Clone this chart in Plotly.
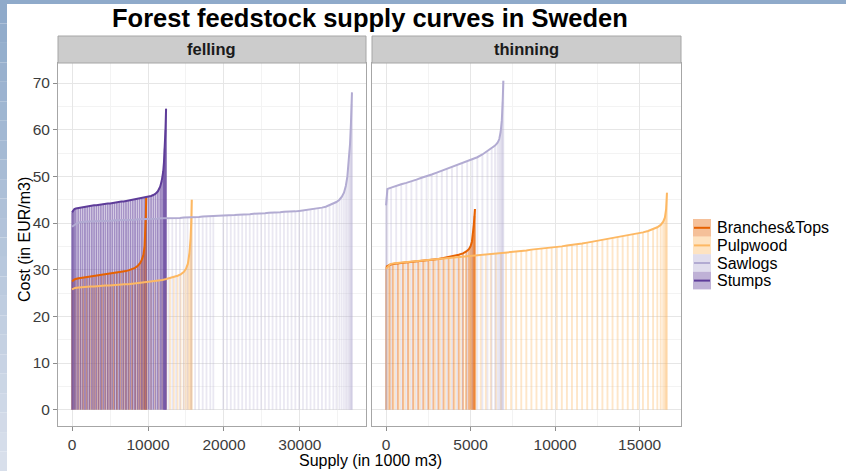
import plotly.graph_objects as go

W, H = 846, 471

# ---------------- data (supply in 1000 m3, cost in EUR/m3) ----------------
series = ["Branches&Tops", "Pulpwood", "Sawlogs", "Stumps"]

fell_branches_x = [0, 300, 700, 1100, 1500, 1900, 2300, 2700, 3100, 3500, 3900, 4300, 4700, 5100, 5500,
                   5900, 6300, 6700, 7100, 7500, 7900, 8300, 8700, 9000, 9200, 9400, 9550, 9650, 9720, 9760]
fell_branches_cost = [27.5, 27.9, 28.1, 28.2, 28.3, 28.4, 28.5, 28.6, 28.7, 28.7, 28.8, 28.9, 29.0, 29.1, 29.2,
                      29.3, 29.4, 29.5, 29.7, 29.9, 30.1, 30.4, 30.9, 31.5, 32.2, 33.2, 35.0, 38.0, 42.0, 45.5]

fell_pulp_x = [0, 400, 900, 1400, 1900, 2400, 2900, 3400, 3900, 4400, 4900, 5400, 5900, 6400, 6900, 7400,
               7900, 8400, 8900, 9400, 9900, 10400, 10900, 11400, 11900, 12400, 12900, 13400, 13900, 14300,
               14700, 15000, 15250, 15450, 15600, 15700, 15760]
fell_pulp_cost = [25.8, 26.1, 26.2, 26.3, 26.3, 26.4, 26.4, 26.5, 26.5, 26.6, 26.6, 26.7, 26.8, 26.8, 26.9, 26.9,
                  27.0, 27.1, 27.1, 27.2, 27.3, 27.4, 27.5, 27.6, 27.8, 28.0, 28.2, 28.4, 28.7, 29.0,
                  29.5, 30.2, 31.3, 33.5, 36.5, 40.5, 45.0]

fell_saw_x = [0, 300, 700, 1200, 1700, 2200, 2700, 3200, 3700, 4200, 4700, 5200, 5700, 6200, 6700, 7200, 7700,
              8200, 8700, 9200, 9700, 10200, 10700, 11200, 11700, 12200, 12700, 13200, 13700, 14200, 14700,
              15200, 15700, 16200, 16700, 17200, 17700, 18200, 18600, 19900, 20400, 20900, 21400, 21900,
              22400, 22900, 23400, 23900, 24400, 24900, 25400, 25900, 26400, 26900, 27400, 27900, 28400,
              28900, 29400, 29900, 30400, 30900, 31400, 31900, 32400, 32900, 33400, 33900, 34400, 34800,
              35200, 35500, 35800, 36050, 36250, 36450, 36600, 36720, 36800, 36850]
fell_saw_cost = [39.2, 39.6, 40.0, 40.2, 40.3, 40.3, 40.4, 40.4, 40.4, 40.5, 40.5, 40.5, 40.6, 40.6, 40.6, 40.7,
                 40.7, 40.7, 40.8, 40.8, 40.8, 40.9, 40.9, 40.9, 41.0, 41.0, 41.0, 41.1, 41.1, 41.1, 41.2,
                 41.2, 41.2, 41.3, 41.3, 41.4, 41.4, 41.4, 41.5, 41.6, 41.6, 41.7, 41.7, 41.8, 41.8, 41.9,
                 41.9, 42.0, 42.0, 42.1, 42.1, 42.2, 42.2, 42.3, 42.3, 42.4, 42.4, 42.5, 42.5, 42.6, 42.7,
                 42.8, 42.9, 43.0, 43.1, 43.3, 43.5, 43.8, 44.1, 44.5, 45.0, 45.6, 46.5, 48.0, 50.0, 53.5,
                 57.0, 61.5, 65.5, 68.0]

fell_stumps_x = [0, 150, 300, 500, 800, 1100, 1400, 1700, 2000, 2300, 2600, 2900, 3200, 3500, 3800, 4100,
                 4400, 4700, 5000, 5300, 5600, 5900, 6200, 6500, 6800, 7100, 7400, 7700, 8000, 8300, 8600,
                 8900, 9200, 9500, 9800, 10100, 10400, 10700, 11000, 11300, 11600, 11800, 12000, 12100, 12200,
                 12300, 12380]
fell_stumps_cost = [42.3, 42.8, 43.0, 43.1, 43.2, 43.3, 43.4, 43.5, 43.6, 43.6, 43.7, 43.8, 43.8, 43.9, 44.0,
                    44.0, 44.1, 44.2, 44.2, 44.3, 44.4, 44.4, 44.5, 44.6, 44.6, 44.7, 44.8, 44.8, 44.9, 45.0,
                    45.1, 45.2, 45.3, 45.4, 45.5, 45.6, 45.8, 46.0, 46.3, 46.8, 47.8, 49.0, 51.0, 53.0, 56.0,
                    60.0, 64.5]

thin_branches_x = [0, 200, 400, 700, 1000, 1300, 1600, 1900, 2200, 2500, 2800, 3100, 3400, 3700, 4000, 4300,
                   4550, 4750, 4900, 5000, 5080, 5140, 5190, 5230, 5260]
thin_branches_cost = [30.6, 31.0, 31.2, 31.4, 31.5, 31.6, 31.7, 31.8, 31.9, 32.0, 32.2, 32.3, 32.5, 32.7, 32.9,
                      33.2, 33.5, 33.9, 34.4, 35.0, 36.0, 37.5, 39.5, 41.5, 43.0]

thin_pulp_x = [0, 100, 250, 500, 800, 1100, 1400, 1700, 2000, 2300, 2600, 2900, 3200, 3500, 3800, 4100, 4400,
               4700, 5000, 5300, 5600, 5900, 6200, 6500, 6800, 7100, 7400, 7700, 8000, 8300, 8600, 8900, 9200,
               9500, 9800, 10100, 10400, 10700, 11000, 11300, 11600, 11900, 12200, 12500, 12800, 13100, 13400,
               13700, 14000, 14300, 14600, 14900, 15200, 15500, 15800, 16050, 16250, 16400, 16500, 16570, 16620]
thin_pulp_cost = [30.2, 30.7, 31.2, 31.4, 31.5, 31.6, 31.7, 31.8, 31.9, 32.0, 32.1, 32.2, 32.3, 32.4, 32.5, 32.6,
                  32.7, 32.8, 33.0, 33.1, 33.2, 33.3, 33.4, 33.5, 33.6, 33.7, 33.8, 33.9, 34.0, 34.1, 34.3,
                  34.4, 34.5, 34.6, 34.8, 34.9, 35.0, 35.2, 35.3, 35.5, 35.6, 35.8, 36.0, 36.2, 36.3, 36.5,
                  36.7, 36.9, 37.1, 37.3, 37.5, 37.7, 38.0, 38.3, 38.7, 39.1, 39.6, 40.3, 41.2, 43.0, 46.5]

thin_saw_x = [0, 30, 80, 300, 600, 900, 1200, 1500, 1800, 2100, 2400, 2700, 3000, 3300, 3600, 3900, 4200, 4500,
              4800, 5100, 5400, 5700, 6000, 6250, 6450, 6600, 6700, 6780, 6850, 6900, 6940]
thin_saw_cost = [43.8, 45.5, 47.3, 47.6, 48.0, 48.3, 48.6, 48.9, 49.3, 49.7, 50.0, 50.4, 50.8, 51.2, 51.6, 52.0,
                 52.4, 52.8, 53.2, 53.6, 54.1, 54.7, 55.4, 56.0, 56.6, 57.2, 58.0, 59.5, 62.0, 66.0, 70.5]

x_ticks_felling = [0, 10000, 20000, 30000]
x_ticks_thinning = [0, 5000, 10000, 15000]
y_ticks = [0, 10, 20, 30, 40, 50, 60, 70]

panels = {
    "felling": {"Branches&Tops": (fell_branches_x, fell_branches_cost),
                "Pulpwood": (fell_pulp_x, fell_pulp_cost),
                "Sawlogs": (fell_saw_x, fell_saw_cost),
                "Stumps": (fell_stumps_x, fell_stumps_cost)},
    "thinning": {"Branches&Tops": (thin_branches_x, thin_branches_cost),
                 "Pulpwood": (thin_pulp_x, thin_pulp_cost),
                 "Sawlogs": (thin_saw_x, thin_saw_cost)},
}

# ---------------- styles ----------------
colors = {"Branches&Tops": (230, 97, 1), "Pulpwood": (253, 184, 99),
          "Sawlogs": (178, 171, 210), "Stumps": (94, 60, 153)}
drop_alpha = {"Branches&Tops": 0.45, "Pulpwood": 0.35, "Sawlogs": 0.28, "Stumps": 0.55}
drop_width = {"felling": 1.8, "thinning": 1.9}
FONT = "Liberation Sans, Arial, sans-serif"


def rgba(c, a):
    return "rgba(%d,%d,%d,%s)" % (c[0], c[1], c[2], a)


def px(x):
    return x / W


def py(y):
    return 1 - y / H


fig = go.Figure()
axes = {"felling": ("x", "y"), "thinning": ("x2", "y2")}

# drop lines
for panel, data in panels.items():
    xa, ya = axes[panel]
    for s in series:
        if s not in data:
            continue
        xs, cs = data[s]
        dx, dy = [], []
        for xv, cv in zip(xs, cs):
            dx += [xv, xv, None]
            dy += [0, cv, None]
        fig.add_trace(go.Scatter(x=dx, y=dy, mode="lines", xaxis=xa, yaxis=ya,
                                 line=dict(color=rgba(colors[s], drop_alpha[s]), width=drop_width[panel]),
                                 hoverinfo="skip", showlegend=False))
# curves
for panel, data in panels.items():
    xa, ya = axes[panel]
    for s in series:
        if s not in data:
            continue
        xs, cs = data[s]
        fig.add_trace(go.Scatter(x=xs, y=cs, mode="lines", xaxis=xa, yaxis=ya,
                                 line=dict(color=rgba(colors[s], 1), width=2),
                                 name=s, showlegend=False))

grid_major = "#E6E6E6"
grid_minor = "#F3F3F3"
border = "#A6A6A6"
tickfont = dict(family=FONT, size=15.5, color="#3C3C3C")

common = dict(showgrid=True, gridcolor=grid_major, gridwidth=1, zeroline=False,
              showline=True, mirror=True, linecolor=border, linewidth=1,
              ticks="outside", ticklen=4, tickcolor="#8C8C8C", tickwidth=1,
              tickfont=tickfont, fixedrange=True)

fig.update_layout(
    width=W, height=H, margin=dict(l=0, r=0, t=0, b=0),
    paper_bgcolor="white", plot_bgcolor="white",
    showlegend=False,
    xaxis=dict(domain=[px(58), px(366)], range=[-1850, 38700], anchor="y",
               tickvals=x_ticks_felling, tickformat="d",
               minor=dict(dtick=5000, tick0=0, showgrid=True, gridcolor=grid_minor, ticks=""), **common),
    yaxis=dict(domain=[py(426), py(63)], range=[-3.5, 74.3], anchor="x",
               tickvals=y_ticks,
               minor=dict(dtick=5, tick0=0, showgrid=True, gridcolor=grid_minor, ticks=""), **common),
    xaxis2=dict(domain=[px(372), px(681)], range=[-831, 17451], anchor="y2",
                tickvals=x_ticks_thinning, tickformat="d",
                minor=dict(dtick=2500, tick0=0, showgrid=True, gridcolor=grid_minor, ticks=""), **common),
    yaxis2=dict(domain=[py(426), py(63)], range=[-3.5, 74.3], anchor="x2",
                tickvals=y_ticks, showticklabels=False,
                minor=dict(dtick=5, tick0=0, showgrid=True, gridcolor=grid_minor, ticks=""),
                **{k: v for k, v in common.items() if k not in ("ticks",)}, ticks=""),
)

shapes = []
annotations = []

# slide background frame
shapes.append(dict(type="rect", xref="paper", yref="paper", x0=0, x1=1, y0=py(4), y1=1,
                   fillcolor="#8FAACA", line=dict(width=0), layer="below"))
top_c = (143, 170, 202)
bot_c = (216, 223, 235)
n = 24
for i in range(n):
    t = i / (n - 1)
    c = tuple(int(round(top_c[k] + (bot_c[k] - top_c[k]) * t)) for k in range(3))
    y0 = 4 + (H - 4) * i / n
    y1 = 4 + (H - 4) * (i + 1) / n
    shapes.append(dict(type="rect", xref="paper", yref="paper", x0=0, x1=px(7), y0=py(y1), y1=py(y0),
                       fillcolor="rgb(%d,%d,%d)" % c, line=dict(width=0), layer="below"))

# strips
for name, (x0, x1) in {"felling": (58, 366), "thinning": (372, 681)}.items():
    shapes.append(dict(type="rect", xref="paper", yref="paper", x0=px(x0), x1=px(x1), y0=py(63), y1=py(36),
                       fillcolor="#CCCCCC", line=dict(color="#A6A6A6", width=1)))
    annotations.append(dict(text="<b>%s</b>" % name, xref="paper", yref="paper", x=px((x0 + x1) / 2),
                            y=py(49.5), xanchor="center", yanchor="middle", showarrow=False,
                            font=dict(family=FONT, size=16.5, color="#1A1A1A")))

# title and axis titles
annotations.append(dict(text="<b>Forest feedstock supply curves in Sweden</b>", xref="paper", yref="paper",
                        x=px(370), y=py(18), xanchor="center", yanchor="middle", showarrow=False,
                        font=dict(family=FONT, size=25.5, color="black")))
annotations.append(dict(text="Supply (in 1000 m3)", xref="paper", yref="paper", x=px(370), y=py(460.5),
                        xanchor="center", yanchor="middle", showarrow=False,
                        font=dict(family=FONT, size=16, color="black")))
annotations.append(dict(text="Cost (in EUR/m3)", xref="paper", yref="paper", x=px(24), y=py(240),
                        xanchor="center", yanchor="middle", showarrow=False, textangle=-90,
                        font=dict(family=FONT, size=16, color="black")))

# legend
for i, s in enumerate(series):
    y0 = 219 + i * 17.6
    shapes.append(dict(type="rect", xref="paper", yref="paper", x0=px(693), x1=px(711),
                       y0=py(y0 + 17.6), y1=py(y0), fillcolor=rgba(colors[s], 0.4), line=dict(width=0)))
    shapes.append(dict(type="line", xref="paper", yref="paper", x0=px(694), x1=px(710),
                       y0=py(y0 + 8.8), y1=py(y0 + 8.8), line=dict(color=rgba(colors[s], 1), width=2)))
    annotations.append(dict(text=s, xref="paper", yref="paper", x=px(715), y=py(y0 + 8.8),
                            xanchor="left", yanchor="middle", showarrow=False,
                            font=dict(family=FONT, size=16, color="black")))

fig.update_layout(shapes=shapes, annotations=annotations)
fig.write_html("out.html", config={"displayModeBar": False},
               post_script="document.body.style.margin='0';document.body.style.overflow='hidden';")
